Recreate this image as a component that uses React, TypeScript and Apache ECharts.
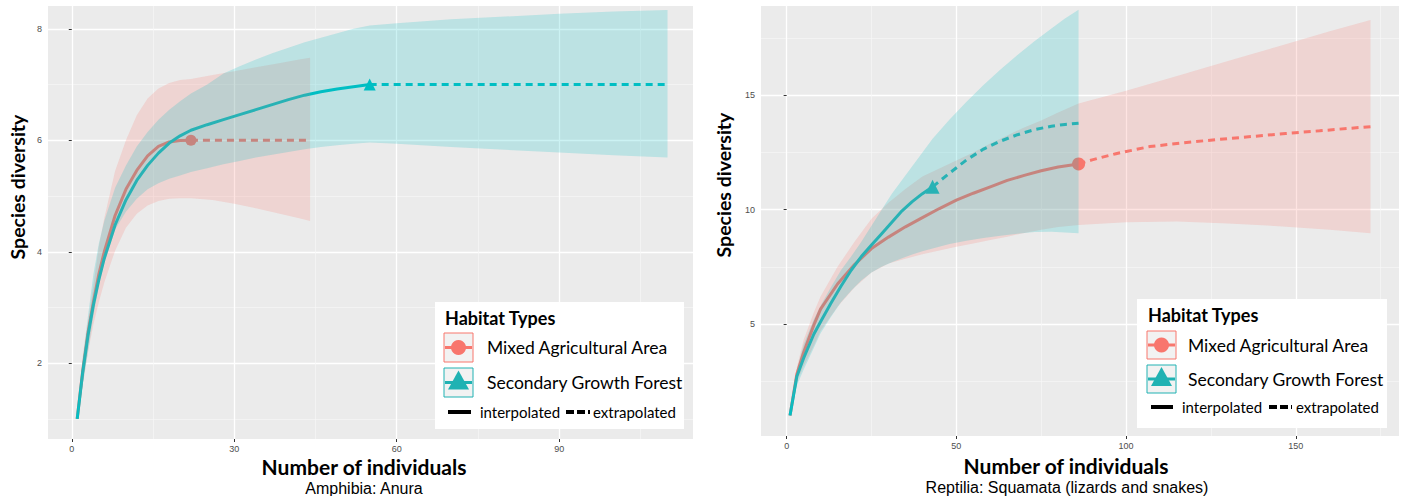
import React, { useEffect, useRef } from "react";
import * as echarts from "echarts";

// ---------- DATA ----------
// Left panel: Amphibia: Anura
const leftMixedInterpX = [1, 2, 3, 4, 5, 6, 8, 10, 12, 14, 16, 18, 20, 22];
const leftMixedInterpY = [1, 1.85, 2.55, 3.1, 3.6, 4.0, 4.65, 5.12, 5.46, 5.72, 5.89, 5.97, 5.995, 6.0];
const leftMixedExtrapX = [22, 30, 37, 44];
const leftMixedExtrapY = [6, 6, 6, 6];
const leftMixedBandX = [1, 2, 3, 4, 5, 6, 8, 10, 12, 14, 16, 18, 20, 22, 26, 30, 34, 38, 42, 44];
const leftMixedLo = [1, 1.6, 2.2, 2.7, 3.1, 3.45, 4.02, 4.43, 4.68, 4.83, 4.91, 4.95, 4.96, 4.96, 4.93, 4.86, 4.78, 4.69, 4.6, 4.55];
const leftMixedHi = [1, 2.0, 2.75, 3.4, 4.1, 4.6, 5.45, 6.0, 6.45, 6.75, 6.93, 7.03, 7.08, 7.1, 7.17, 7.24, 7.31, 7.38, 7.45, 7.48];
const leftMixedObs = [22, 6];

const leftForestInterpX = [1, 2, 3, 4, 5, 6, 8, 10, 12, 14, 16, 18, 20, 22, 25, 28, 31, 34, 37, 40, 43, 46, 49, 52, 55];
const leftForestInterpY = [1, 1.82, 2.5, 3.05, 3.5, 3.88, 4.48, 4.93, 5.28, 5.55, 5.77, 5.95, 6.08, 6.18, 6.28, 6.37, 6.46, 6.55, 6.64, 6.73, 6.81, 6.87, 6.92, 6.96, 7.0];
const leftForestExtrapX = [55, 73, 92, 110];
const leftForestExtrapY = [7, 7, 7, 7];
const leftForestBandX = [1, 2, 3, 4, 5, 6, 8, 10, 12, 14, 16, 18, 20, 22, 25, 28, 31, 34, 37, 40, 43, 46, 49, 52, 55, 60, 70, 80, 90, 100, 110];
const leftForestLo = [1, 1.6, 2.2, 2.85, 3.4, 3.8, 4.4, 4.72, 4.95, 5.12, 5.23, 5.31, 5.37, 5.43, 5.5, 5.57, 5.63, 5.69, 5.74, 5.79, 5.84, 5.88, 5.91, 5.94, 5.96, 5.94, 5.88, 5.83, 5.78, 5.73, 5.69];
const leftForestHi = [1, 2.1, 2.85, 3.6, 4.15, 4.55, 5.15, 5.55, 5.89, 6.15, 6.37, 6.55, 6.7, 6.84, 7.0, 7.2, 7.33, 7.45, 7.56, 7.66, 7.76, 7.84, 7.92, 8.0, 8.06, 8.1, 8.17, 8.22, 8.27, 8.31, 8.34];
const leftForestObs = [55, 7];

// Right panel: Reptilia: Squamata
const rightMixedInterpX = [1, 3, 5, 8, 10, 15, 20, 25, 30, 35, 40, 45, 50, 55, 60, 65, 70, 75, 80, 86];
const rightMixedInterpY = [1, 2.8, 3.75, 4.95, 5.65, 6.75, 7.6, 8.3, 8.8, 9.25, 9.65, 10.05, 10.42, 10.72, 11.0, 11.28, 11.5, 11.7, 11.87, 12.0];
const rightMixedExtrapX = [86, 90, 97, 107, 117, 127, 137, 147, 157, 165, 172];
const rightMixedExtrapY = [12.0, 12.18, 12.45, 12.76, 12.93, 13.07, 13.2, 13.33, 13.45, 13.55, 13.63];
const rightMixedBandX = [1, 3, 5, 8, 10, 15, 20, 25, 30, 35, 40, 45, 50, 55, 60, 65, 70, 75, 80, 86, 100, 115, 130, 145, 160, 172];
const rightMixedLo = [1, 2.45, 3.15, 4.05, 4.7, 5.75, 6.6, 7.25, 7.65, 7.85, 8.05, 8.22, 8.38, 8.52, 8.67, 8.82, 8.98, 9.12, 9.24, 9.33, 9.45, 9.48, 9.4, 9.28, 9.12, 8.97];
const rightMixedHi = [1, 3.1, 4.3, 5.5, 6.2, 7.5, 8.6, 9.6, 10.3, 10.9, 11.45, 11.8, 12.15, 12.5, 12.9, 13.25, 13.6, 13.9, 14.25, 14.65, 15.2, 15.85, 16.5, 17.15, 17.8, 18.3];
const rightMixedObs = [86, 12];

const rightForestInterpX = [1, 3, 5, 8, 10, 13, 16, 19, 22, 25, 28, 31, 34, 37, 40, 43];
const rightForestInterpY = [1, 2.7, 3.5, 4.55, 5.1, 5.9, 6.65, 7.35, 7.95, 8.45, 8.95, 9.45, 9.95, 10.35, 10.7, 11.0];
const rightForestExtrapX = [43, 48, 53, 58, 63, 68, 73, 78, 82, 86];
const rightForestExtrapY = [11.0, 11.6, 12.18, 12.65, 13.0, 13.28, 13.5, 13.65, 13.73, 13.78];
const rightForestBandX = [1, 3, 5, 8, 10, 13, 16, 19, 22, 25, 28, 31, 34, 37, 40, 43, 48, 53, 58, 63, 68, 73, 78, 82, 86];
const rightForestLo = [1, 2.3, 3.0, 3.95, 4.6, 5.3, 5.95, 6.45, 6.9, 7.25, 7.5, 7.7, 7.88, 8.04, 8.18, 8.3, 8.5, 8.64, 8.76, 8.86, 8.95, 9.02, 9.03, 9.0, 8.97];
const rightForestHi = [1, 3.0, 4.1, 5.2, 5.8, 6.6, 7.35, 7.95, 8.6, 9.3, 10.0, 10.7, 11.3, 11.9, 12.5, 13.1, 13.95, 14.72, 15.45, 16.13, 16.77, 17.37, 17.93, 18.36, 18.75];
const rightForestObs = [43, 11];

// Tick labels
const leftXMajor = [0, 30, 60, 90];
const leftXMinor = [15, 45, 75, 105];
const leftYMajor = [2, 4, 6, 8];
const leftYMinor = [1, 3, 5, 7];
const rightXMajor = [0, 50, 100, 150];
const rightXMinor = [25, 75, 125, 175];
const rightYMajor = [5, 10, 15];
const rightYMinor = [2.5, 7.5, 12.5, 17.5];

const legendTitle = "Habitat Types";
const habitatNames = ["Mixed Agricultural Area", "Secondary Growth Forest"];
const lineTypeNames = ["interpolated", "extrapolated"];
const xTitle = "Number of individuals";
const yTitle = "Species diversity";
const subtitles = ["Amphibia: Anura", "Reptilia: Squamata (lizards and snakes)"];

// ---------- STYLE ----------
const PINK = "#F8766D";
const CYAN = "#00BFC4";
const PINK_BAND = "rgba(248,118,109,0.2)";
const CYAN_BAND = "rgba(0,191,196,0.2)";

const zip = (xs: number[], ys: number[]) => xs.map((x, i) => [x, ys[i]]);

function makeAxis(kind: "x" | "y", gridIndex: number, min: number, max: number, values: number[], major: boolean) {
  return {
    type: "value",
    gridIndex,
    min,
    max,
    position: kind === "x" ? (major ? "bottom" : "top") : major ? "left" : "right",
    axisLine: { show: false },
    axisTick: { show: major, customValues: values, length: 3, lineStyle: { color: "#333333", width: 1 } },
    axisLabel: {
      show: major,
      customValues: values,
      margin: kind === "x" ? 5 : 6,
      color: "#4D4D4D",
      fontSize: 9,
      fontFamily: "Liberation Sans",
    },
    splitLine: { show: true, lineStyle: { color: major ? "#FFFFFF" : "#F7F7F7", width: major ? 1.3 : 0.7 } },
  };
}

function lineSeries(xs: number[], ys: number[], color: string, dashed: boolean, xi: number, yi: number) {
  return {
    type: "line",
    xAxisIndex: xi,
    yAxisIndex: yi,
    data: zip(xs, ys),
    symbol: "none",
    z: 2,
    silent: true,
    lineStyle: { color, width: 3, type: dashed ? [7, 5] : "solid", cap: "butt" },
  };
}

function pointSeries(p: number[], color: string, symbol: string, size: number, xi: number, yi: number) {
  return {
    type: "scatter",
    xAxisIndex: xi,
    yAxisIndex: yi,
    data: [p],
    symbol,
    symbolSize: size,
    z: 2,
    silent: true,
    itemStyle: { color, opacity: 1 },
  };
}

function bandSeries(xs: number[], lo: number[], hi: number[], fill: string, xi: number, yi: number) {
  return {
    type: "custom",
    xAxisIndex: xi,
    yAxisIndex: yi,
    z: 3,
    silent: true,
    data: [[xs[0], lo[0]]],
    renderItem: (_params: any, api: any) => {
      const pts: number[][] = [];
      for (let i = 0; i < xs.length; i++) pts.push(api.coord([xs[i], hi[i]]));
      for (let i = xs.length - 1; i >= 0; i--) pts.push(api.coord([xs[i], lo[i]]));
      return { type: "polygon", shape: { points: pts }, style: { fill } };
    },
  };
}

function txt(text: string, x: number, y: number, size: number, weight: string, family: string, align = "left", rotation = 0) {
  return {
    type: "text",
    x,
    y,
    rotation,
    z: 100,
    silent: true,
    style: {
      text,
      fontSize: size,
      fontWeight: weight,
      fontFamily: family,
      fill: "#000000",
      align,
      verticalAlign: "middle",
    },
  };
}

function legend(bx: number, by: number, bw: number, bh: number, kx: number, k1y: number, k2y: number, kh: number, tx: number, lineY: number, l: number[]) {
  const ks = 29;
  const c1y = k1y + kh / 2;
  const c2y = k2y + kh / 2;
  const cx = kx + ks / 2;
  return [
    { type: "rect", z: 100, silent: true, shape: { x: bx, y: by, width: bw, height: bh }, style: { fill: "#FFFFFF" } },
    txt(legendTitle, kx + 1, by + 16, 18, "bold", "Lato"),
    { type: "rect", z: 101, silent: true, shape: { x: kx, y: k1y, width: ks, height: kh }, style: { fill: "#F2F2F2", stroke: PINK, lineWidth: 1 } },
    { type: "line", z: 102, silent: true, shape: { x1: kx + 1, y1: c1y, x2: kx + ks - 1, y2: c1y }, style: { stroke: PINK, lineWidth: 3 } },
    { type: "circle", z: 103, silent: true, shape: { cx, cy: c1y, r: 7.5 }, style: { fill: PINK } },
    txt(habitatNames[0], tx, c1y, 17.5, "normal", "Lato"),
    { type: "rect", z: 101, silent: true, shape: { x: kx, y: k2y, width: ks, height: kh }, style: { fill: "#F2F2F2", stroke: "#20B2B3", lineWidth: 1 } },
    { type: "line", z: 102, silent: true, shape: { x1: kx + 1, y1: c2y, x2: kx + ks - 1, y2: c2y }, style: { stroke: "#20B2B3", lineWidth: 3 } },
    {
      type: "polygon",
      z: 103,
      silent: true,
      shape: { points: [[cx, c2y - 12], [cx + 10.5, c2y + 7], [cx - 10.5, c2y + 7]] },
      style: { fill: "#20B2B3" },
    },
    txt(habitatNames[1], tx, c2y, 17.5, "normal", "Lato"),
    { type: "line", z: 102, silent: true, shape: { x1: l[0], y1: lineY, x2: l[1], y2: lineY }, style: { stroke: "#000", lineWidth: 4 } },
    txt(lineTypeNames[0], l[2], lineY, 15, "normal", "Lato"),
    { type: "line", z: 102, silent: true, shape: { x1: l[3], y1: lineY, x2: l[4], y2: lineY }, style: { stroke: "#000", lineWidth: 4, lineDash: [8, 3] } },
    txt(lineTypeNames[1], l[5], lineY, 15, "normal", "Lato"),
  ];
}

const option: any = {
  animation: false,
  backgroundColor: "#FFFFFF",
  grid: [
    { left: 48, top: 6, width: 645, height: 433, show: true, backgroundColor: "#EBEBEB", borderWidth: 0 },
    { left: 761, top: 6, width: 638, height: 430, show: true, backgroundColor: "#EBEBEB", borderWidth: 0 },
  ],
  xAxis: [
    makeAxis("x", 0, -4.39, 114.7, leftXMajor, true),
    makeAxis("x", 0, -4.39, 114.7, leftXMinor, false),
    makeAxis("x", 1, -7.55, 180.4, rightXMajor, true),
    makeAxis("x", 1, -7.55, 180.4, rightXMinor, false),
  ],
  yAxis: [
    makeAxis("y", 0, 0.64, 8.41, leftYMajor, true),
    makeAxis("y", 0, 0.64, 8.41, leftYMinor, false),
    makeAxis("y", 1, 0.1, 18.91, rightYMajor, true),
    makeAxis("y", 1, 0.1, 18.91, rightYMinor, false),
  ],
  series: [
    lineSeries(leftMixedInterpX, leftMixedInterpY, PINK, false, 0, 0),
    lineSeries(leftMixedExtrapX, leftMixedExtrapY, PINK, true, 0, 0),
    pointSeries(leftMixedObs, PINK, "circle", 11, 0, 0),
    lineSeries(leftForestInterpX, leftForestInterpY, CYAN, false, 0, 0),
    lineSeries(leftForestExtrapX, leftForestExtrapY, CYAN, true, 0, 0),
    pointSeries(leftForestObs, CYAN, "triangle", 12, 0, 0),
    bandSeries(leftMixedBandX, leftMixedLo, leftMixedHi, PINK_BAND, 0, 0),
    bandSeries(leftForestBandX, leftForestLo, leftForestHi, CYAN_BAND, 0, 0),

    lineSeries(rightMixedInterpX, rightMixedInterpY, PINK, false, 2, 2),
    lineSeries(rightMixedExtrapX, rightMixedExtrapY, PINK, true, 2, 2),
    pointSeries(rightMixedObs, PINK, "circle", 13, 2, 2),
    lineSeries(rightForestInterpX, rightForestInterpY, CYAN, false, 2, 2),
    lineSeries(rightForestExtrapX, rightForestExtrapY, CYAN, true, 2, 2),
    pointSeries(rightForestObs, CYAN, "triangle", 14, 2, 2),
    bandSeries(rightMixedBandX, rightMixedLo, rightMixedHi, PINK_BAND, 2, 2),
    bandSeries(rightForestBandX, rightForestLo, rightForestHi, CYAN_BAND, 2, 2),
  ],
  graphic: {
    elements: [
      txt(xTitle, 364, 466, 21, "bold", "Lato", "center"),
      txt(subtitles[0], 364, 488, 16, "normal", "Liberation Sans", "center"),
      txt(yTitle, 17, 187, 19.5, "bold", "Lato", "center", Math.PI / 2),
      txt(xTitle, 1066, 465, 21, "bold", "Lato", "center"),
      txt(subtitles[1], 1067, 487, 16, "normal", "Liberation Sans", "center"),
      txt(yTitle, 723, 185, 19.5, "bold", "Lato", "center", Math.PI / 2),
      ...legend(435, 302, 249, 127, 444, 333, 368, 29, 487, 412, [448, 471, 480, 566, 590, 593]),
      ...legend(1137, 299, 250, 129, 1147, 331, 365, 28, 1188, 407, [1151, 1173, 1182, 1269, 1292, 1296]),
    ],
  },
};

export default function App() {
  const ref = useRef<HTMLDivElement>(null);
  useEffect(() => {
    document.body.style.margin = "0";
    const chart = echarts.init(ref.current!, null, { renderer: "svg" });
    chart.setOption(option);
    return () => chart.dispose();
  }, []);
  return (
    <div
      ref={ref}
      style={{ position: "absolute", left: 0, top: 0, width: 1402, height: 496, background: "#FFFFFF" }}
    />
  );
}
